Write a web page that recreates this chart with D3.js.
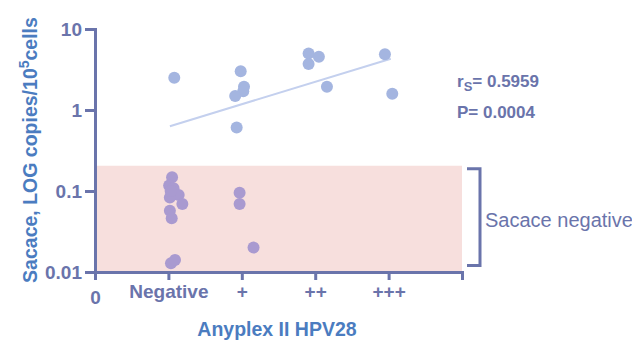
<!DOCTYPE html>
<html>
<head>
<meta charset="utf-8">
<script src="https://cdn.jsdelivr.net/npm/d3@7"></script>
<style>
  body { margin: 0; background: #fff; }
  text { font-family: "Liberation Sans", Arial, sans-serif; }
</style>
</head>
<body>
<div id="chart"></div>
<script>
// x categories (position 0 is the bare "0" tick)
const categories = ["0", "Negative", "+", "++", "+++"];
const yTicks = [0.01, 0.1, 1, 10];
const yTickLabels = ["0.01", "0.1", "1", "10"];

// Sacace positive samples (x = jittered category position, y = copies)
const posX = [1.08, 1.985, 2.03, 2.02, 1.91, 1.93, 2.91, 3.05, 2.91, 3.16, 3.95, 4.05];
const posY = [2.5, 3.0, 1.94, 1.70, 1.49, 0.61, 5.0, 4.55, 3.70, 1.94, 4.87, 1.59];

// Sacace negative samples
const negX = [1.05, 1.01, 1.07, 1.14, 1.02, 1.19, 1.02, 1.045, 1.035, 1.09, 1.03, 1.97, 1.97, 2.16];
const negY = [0.148, 0.117, 0.108, 0.089, 0.083, 0.069, 0.057, 0.046, 0.0128, 0.0141, 0.10, 0.095, 0.069, 0.020];

// regression line ends
const fitX = [1.02, 4.03];
const fitY = [0.63, 4.3];

const negCutoff = 0.205;
const rs = "0.5959", pval = "0.0004";

const W = 632, H = 340;
const axisCol = "#6a74ab", titleCol = "#4b7cc0";

const svg = d3.select("#chart").append("svg").attr("width", W).attr("height", H);

const x = d3.scaleLinear().domain([0, 5]).range([95, 462]);
const y = d3.scaleLog().domain([0.01, 10]).range([272, 29]);

// pink negative zone
svg.append("rect")
  .attr("x", x(0)).attr("y", y(negCutoff))
  .attr("width", x(5) - x(0)).attr("height", y(0.01) - y(negCutoff))
  .attr("fill", "#f7dfdd");

// regression line
svg.append("line")
  .attr("x1", x(fitX[0])).attr("y1", y(fitY[0]))
  .attr("x2", x(fitX[1])).attr("y2", y(fitY[1]))
  .attr("stroke", "#c4d0ee").attr("stroke-width", 2);

// dots
svg.selectAll(".pos").data(posX).enter().append("circle")
  .attr("class", "pos")
  .attr("cx", d => x(d)).attr("cy", (d, i) => y(posY[i])).attr("r", 6)
  .attr("fill", "#a4b5e0");
svg.selectAll(".neg").data(negX).enter().append("circle")
  .attr("class", "neg")
  .attr("cx", d => x(d)).attr("cy", (d, i) => y(negY[i])).attr("r", 6)
  .attr("fill", "#a99ad0");

// y axis
const yAxis = svg.append("g").attr("transform", "translate(95,0)")
  .call(d3.axisLeft(y).tickValues(yTicks).tickFormat((d, i) => yTickLabels[i]).tickSize(10).tickPadding(3));
// x axis
const xAxis = svg.append("g").attr("transform", "translate(0,272)")
  .call(d3.axisBottom(x).tickValues([0, 1, 2, 3, 4, 5]).tickFormat(d => categories[d] || "").tickSize(8).tickPadding(5));

[yAxis, xAxis].forEach(g => {
  g.select(".domain").attr("stroke", axisCol).attr("stroke-width", 3);
  g.selectAll(".tick line").attr("stroke", axisCol).attr("stroke-width", 3);
  g.selectAll(".tick text").attr("fill", axisCol)
    .style("font-size", "19px").style("font-weight", "bold");
});
xAxis.select(".tick text").attr("dy", "1.0em");

// axis titles
svg.append("text")
  .attr("transform", "translate(37,150) rotate(-90)")
  .attr("text-anchor", "middle").attr("fill", titleCol)
  .style("font-size", "19.5px").style("font-weight", "bold")
  .html('Sacace, LOG copies/10<tspan dy="-8" style="font-size:14px">5</tspan><tspan dy="8">cells</tspan>');
svg.append("text")
  .attr("x", 277).attr("y", 336).attr("text-anchor", "middle").attr("fill", titleCol)
  .style("font-size", "19.5px").style("font-weight", "bold")
  .text("Anyplex II HPV28");

// stats
svg.append("text")
  .attr("x", 457).attr("y", 87).attr("fill", axisCol)
  .style("font-size", "17px").style("font-weight", "bold")
  .html('r<tspan dy="4" style="font-size:13px">S</tspan><tspan dy="-4">= ' + rs + '</tspan>');
svg.append("text")
  .attr("x", 457).attr("y", 118).attr("fill", axisCol)
  .style("font-size", "17px").style("font-weight", "bold")
  .text("P= " + pval);

// bracket for negative zone
svg.append("path")
  .attr("d", `M467,${y(negCutoff) + 3}H480V${y(0.012)}H467`)
  .attr("fill", "none").attr("stroke", axisCol).attr("stroke-width", 3);
svg.append("text")
  .attr("x", 485).attr("y", 227).attr("fill", axisCol)
  .style("font-size", "20px")
  .text("Sacace negative");
</script>
</body>
</html>
